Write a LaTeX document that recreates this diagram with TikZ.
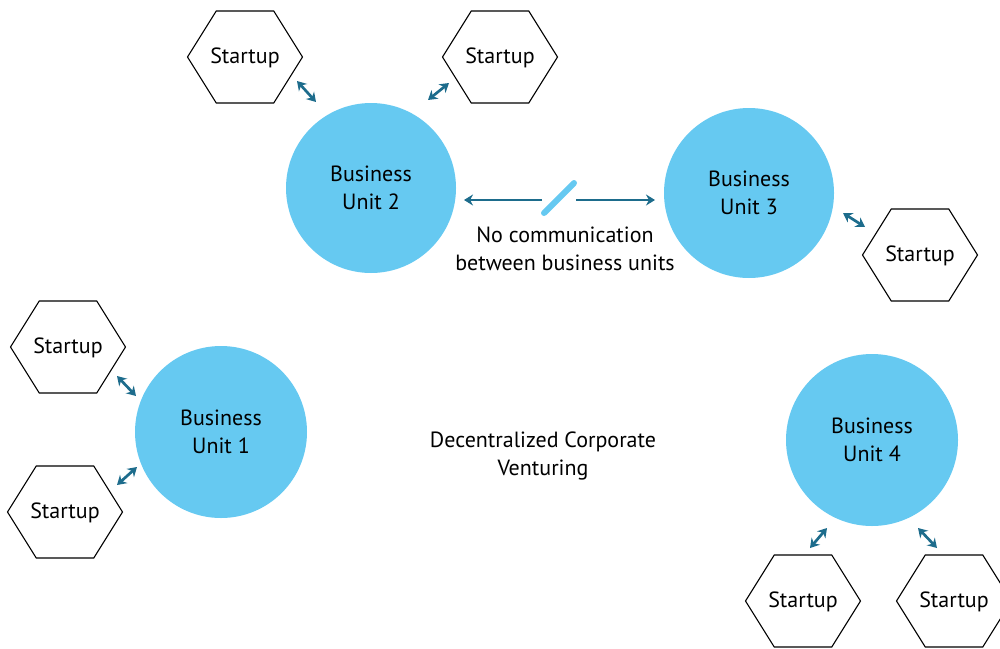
\documentclass[tikz,border=0pt]{standalone}
\usepackage{fontspec}
\setmainfont{PT Sans}
\usetikzlibrary{arrows.meta}
\definecolor{unitblue}{RGB}{102,201,241}
\definecolor{arrowteal}{RGB}{29,108,140}
\tikzset{
  unit/.style={circle, fill=unitblue, inner sep=0pt, align=center, font=\fontsize{22}{28}\selectfont},
  startup/.style={inner sep=0pt, font=\fontsize{22}{24}\selectfont},
  hexline/.style={draw=black, line width=1.1pt, line join=miter},
  link/.style={draw=arrowteal, line width=2.7pt, {Stealth[length=9pt,width=11pt]}-{Stealth[length=9pt,width=11pt]}},
  onehead/.style={draw=arrowteal, line width=2.7pt, -{Stealth[length=9pt,width=11pt]}},
  slash/.style={draw=unitblue, line width=6pt, line cap=round},
  label/.style={align=center, font=\fontsize{22}{28}\selectfont}
}
\begin{document}
\begin{tikzpicture}[x=1pt, y=-1pt]
\useasboundingbox (0,0) rectangle (1000,648);
% business units
\node[unit, minimum size=170pt] (bu2) at (371,188) {Business\\Unit 2};
\node[unit, minimum size=170pt] (bu3) at (749,193) {Business\\Unit 3};
\node[unit, minimum size=172pt] (bu1) at (221,432) {Business\\Unit 1};
\node[unit, minimum size=172pt] (bu4) at (872,440) {Business\\Unit 4};
% startups
\node[startup] (s1) at (245,58) {Startup};
\node[startup] (s2) at (500,58) {Startup};
\node[startup] (s3) at (920,256) {Startup};
\node[startup] (s4) at (68,348) {Startup};
\node[startup] (s5) at (65,513) {Startup};
\node[startup] (s6) at (803,602) {Startup};
\node[startup] (s7) at (954,602) {Startup};
\foreach \n in {s1,s2,s3,s4,s5,s6,s7}{
  \draw[hexline] ([shift={(-57.5pt,1pt)}]\n.center) -- ([shift={(-28.75pt,47pt)}]\n.center)
    -- ([shift={(28.75pt,47pt)}]\n.center) -- ([shift={(57.5pt,1pt)}]\n.center)
    -- ([shift={(28.75pt,-45pt)}]\n.center) -- ([shift={(-28.75pt,-45pt)}]\n.center) -- cycle;
}
% labels
\node[label] (nocomm) at (565,249) {No communication\\between business units};
\node[label] (title) at (543,456) {Decentralized Corporate\\Venturing};
% arrow end points
\coordinate (a1s) at (297,81);  \coordinate (a1e) at (316,102);
\coordinate (a2s) at (428,100); \coordinate (a2e) at (449,83);
\coordinate (a3s) at (843,213); \coordinate (a3e) at (865,227);
\coordinate (a4s) at (117,376); \coordinate (a4e) at (136,396);
\coordinate (a5s) at (117,485); \coordinate (a5e) at (137,467);
\coordinate (a6s) at (810,548); \coordinate (a6e) at (827,528);
\coordinate (a7s) at (918,528); \coordinate (a7e) at (937,548);
\coordinate (hl1) at (542,200); \coordinate (hl2) at (464,200);
\coordinate (hr1) at (576,200); \coordinate (hr2) at (655,200);
\coordinate (sl1) at (544,213); \coordinate (sl2) at (574,183);
\draw[link] (a1s) -- (a1e);
\draw[link] (a2s) -- (a2e);
\draw[link] (a3s) -- (a3e);
\draw[link] (a4s) -- (a4e);
\draw[link] (a5s) -- (a5e);
\draw[link] (a6s) -- (a6e);
\draw[link] (a7s) -- (a7e);
\draw[onehead] (hl1) -- (hl2);
\draw[onehead] (hr1) -- (hr2);
\draw[slash] (sl1) -- (sl2);
\end{tikzpicture}
\end{document}
